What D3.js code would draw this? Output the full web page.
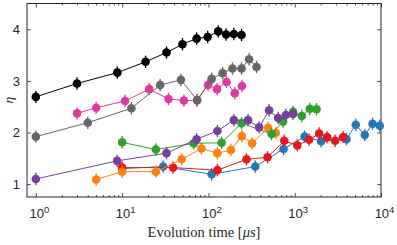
<!DOCTYPE html>
<html>
<head>
<meta charset="utf-8">
<script src="https://cdn.jsdelivr.net/npm/d3@7"></script>
<style>
  body { margin: 0; background: #fff; }
</style>
</head>
<body>
<div id="chart"></div>
<script>
// evolution time [us] and eta for each run
const blackT = [1, 3, 8.8, 18.7, 32.7, 50, 73, 98, 130, 160, 197, 242];
const blackEta = [2.69, 2.95, 3.16, 3.37, 3.55, 3.71, 3.82, 3.85, 3.96, 3.90, 3.91, 3.89];
const grayT = [1, 4, 12.8, 27.6, 48, 74, 109, 146, 190, 242, 296, 361];
const grayEta = [1.92, 2.19, 2.47, 2.92, 3.02, 2.63, 3.04, 3.15, 3.24, 3.24, 3.42, 3.27];
const magentaT = [3, 5, 10.8, 20.6, 34.5, 52, 74, 99, 126, 162, 202, 245];
const magentaEta = [2.37, 2.48, 2.61, 2.84, 2.65, 2.62, 2.62, 2.92, 2.84, 2.98, 2.76, 2.90];
const purpleT = [1, 8.75, 32.7, 73, 127, 197, 288, 387, 505, 642, 789, 958];
const purpleEta = [1.10, 1.45, 1.60, 1.87, 2.03, 2.24, 2.24, 2.10, 2.43, 2.28, 2.34, 2.36];
const greenT = [10, 24.6, 67.4, 142, 242, 539, 734, 958, 1208, 1496, 1790];
const greenEta = [1.81, 1.67, 1.79, 1.80, 2.18, 1.97, 2.21, 2.40, 2.32, 2.46, 2.45];
const orangeT = [5, 10, 24.6, 49, 83, 127, 182, 244, 321, 492, 604];
const orangeEta = [1.09, 1.24, 1.24, 1.48, 1.69, 1.60, 1.66, 1.93, 1.79, 2.09, 1.99];
const redT = [10, 39, 127, 276, 484, 757, 1072, 1469, 1919, 2372, 2937, 3637];
const redEta = [1.32, 1.32, 1.27, 1.48, 1.52, 1.84, 1.75, 1.86, 1.98, 1.91, 1.84, 1.91];
const blueT = [10, 29.9, 109, 349, 743, 1300, 2024, 3981, 5100, 6490, 7980, 9680];
const blueEta = [1.30, 1.34, 1.19, 1.34, 1.68, 1.92, 1.83, 1.87, 2.15, 1.95, 2.17, 2.13];

// error bar half length (eta units)
const etaErr = 0.12;

const xTicks = [1, 10, 100, 1000, 10000];
const yTicks = [1, 2, 3, 4];

// draw order: first is at the bottom
const series = [
  { t: blueT, eta: blueEta, color: "#2478b5" },
  { t: redT, eta: redEta, color: "#e3191f" },
  { t: orangeT, eta: orangeEta, color: "#ff800e" },
  { t: greenT, eta: greenEta, color: "#2ea02d" },
  { t: purpleT, eta: purpleEta, color: "#7640a0" },
  { t: magentaT, eta: magentaEta, color: "#e0399e" },
  { t: grayT, eta: grayEta, color: "#666666" },
  { t: blackT, eta: blackEta, color: "#000000" }
];

function chart() {
  const W = 397, H = 245;
  const left = 27, right = 381, top = 3.5, bottom = 197;

  const svg = d3.select("#chart")
    .append("svg")
    .attr("width", W)
    .attr("height", H);

  const x = d3.scaleLog().domain([0.79, 10000]).range([left, right]);
  const y = d3.scaleLinear().domain([0.75, 4.5]).range([bottom, top]);

  // minor tick values 2..9 x 10^k
  const minor = [];
  for (let k = 0; k < 4; k++) {
    for (let m = 2; m <= 9; m++) minor.push(m * Math.pow(10, k));
  }

  const axisColor = "#262626";
  const font = "'Liberation Sans', Arial, sans-serif";

  // bottom axis
  const gx = svg.append("g")
    .attr("transform", `translate(0,${bottom})`)
    .call(d3.axisBottom(x).tickValues(xTicks).tickSizeInner(-4).tickSizeOuter(0).tickPadding(12).tickFormat(""));
  gx.selectAll(".tick text").each(function (d) {
    const t = d3.select(this);
    t.text("10");
    t.append("tspan").attr("dy", "-0.5em").style("font-size", "9.5px").text(Math.round(Math.log10(d)));
  });
  gx.selectAll("text").style("font-family", font).style("font-size", "13px").attr("fill", axisColor).attr("dx", "3px");

  svg.append("g")
    .attr("transform", `translate(0,${bottom})`)
    .call(d3.axisBottom(x).tickValues(minor).tickSizeInner(-2).tickSizeOuter(0).tickFormat(""));

  // top axis
  svg.append("g")
    .attr("transform", `translate(0,${top})`)
    .call(d3.axisTop(x).tickValues(xTicks).tickSizeInner(-4).tickSizeOuter(0).tickFormat(""));
  svg.append("g")
    .attr("transform", `translate(0,${top})`)
    .call(d3.axisTop(x).tickValues(minor).tickSizeInner(-2).tickSizeOuter(0).tickFormat(""));

  // left axis
  svg.append("g")
    .attr("transform", `translate(${left},0)`)
    .call(d3.axisLeft(y).tickValues(yTicks).tickSizeInner(-4).tickSizeOuter(0).tickPadding(7).tickFormat(d3.format("d")))
    .selectAll("text")
    .style("font-family", font)
    .style("font-size", "13px")
    .attr("fill", axisColor);

  // right axis
  svg.append("g")
    .attr("transform", `translate(${right},0)`)
    .call(d3.axisRight(y).tickValues(yTicks).tickSizeInner(-4).tickSizeOuter(0).tickFormat(""));

  svg.selectAll(".domain").remove();
  svg.selectAll(".tick line").attr("stroke", axisColor).attr("stroke-width", 0.8);

  // box
  svg.append("rect")
    .attr("x", left)
    .attr("y", top)
    .attr("width", right - left)
    .attr("height", bottom - top)
    .attr("fill", "none")
    .attr("stroke", axisColor)
    .attr("stroke-width", 1);

  const line = d3.line()
    .x(d => x(d[0]))
    .y(d => y(d[1]));

  series.forEach(s => {
    const pts = s.t.map((t, i) => [t, s.eta[i]]);
    const g = svg.append("g");

    g.append("path")
      .datum(pts)
      .attr("d", line)
      .attr("fill", "none")
      .attr("stroke", s.color)
      .attr("stroke-width", 1);

    // error bars
    g.selectAll("line.err")
      .data(pts)
      .enter()
      .append("line")
      .attr("class", "err")
      .attr("x1", d => x(d[0]))
      .attr("x2", d => x(d[0]))
      .attr("y1", d => y(d[1] - etaErr))
      .attr("y2", d => y(d[1] + etaErr))
      .attr("stroke", s.color)
      .attr("stroke-width", 1.3);

    g.selectAll("circle")
      .data(pts)
      .enter()
      .append("circle")
      .attr("cx", d => x(d[0]))
      .attr("cy", d => y(d[1]))
      .attr("r", 4.3)
      .attr("fill", s.color);
  });

  // axis labels
  const xl = svg.append("text")
    .attr("x", (left + right) / 2)
    .attr("y", 237)
    .attr("text-anchor", "middle")
    .style("font-family", "'Liberation Serif', 'DejaVu Serif', serif")
    .style("font-size", "14.5px")
    .attr("fill", axisColor)
    .text("Evolution time [");
  xl.append("tspan").style("font-style", "italic").text("μs");
  xl.append("tspan").text("]");

  svg.append("text")
    .attr("transform", `translate(12.5,${(top + bottom) / 2}) rotate(-90)`)
    .attr("text-anchor", "middle")
    .style("font-family", "'Liberation Serif', 'DejaVu Serif', serif")
    .style("font-style", "italic")
    .style("font-size", "13.5px")
    .attr("fill", axisColor)
    .text("η");
}

chart();
</script>
</body>
</html>
